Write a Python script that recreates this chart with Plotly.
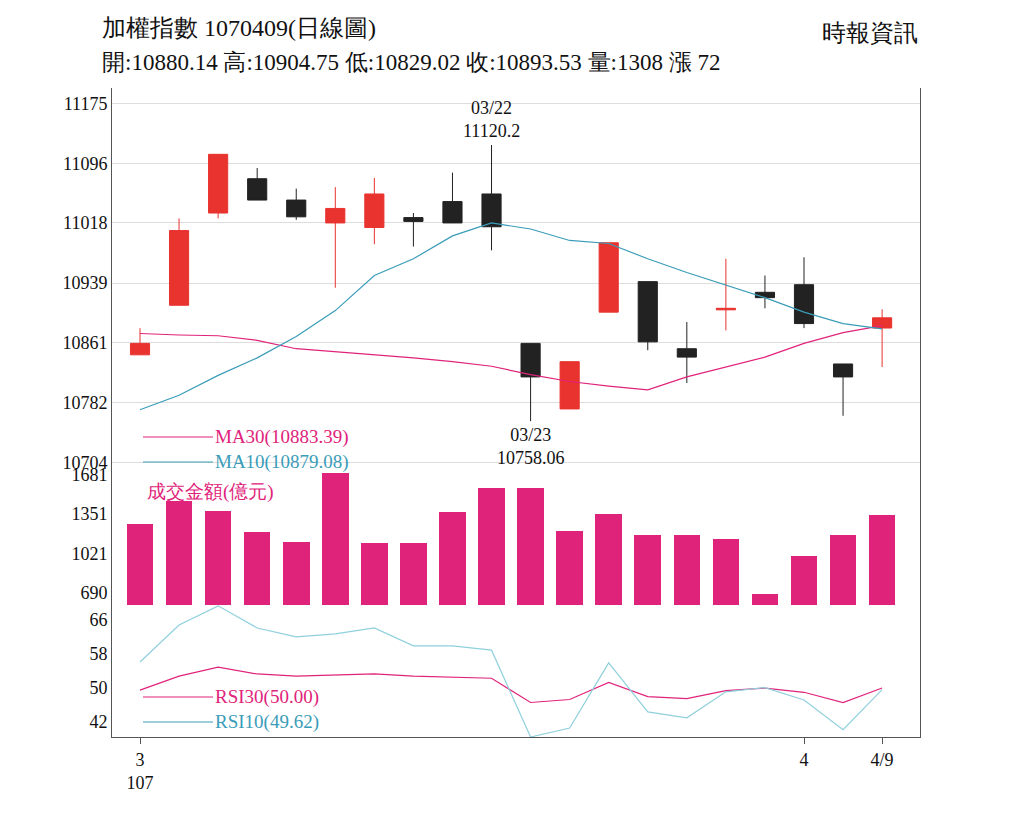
import plotly.graph_objects as go

idx = list(range(20))
opens  = [10845,10910,11031,11076,11048,11018,11012,11025,11046,11056,10860,10774,10901,10941,10853,10904,10927,10937,10833,10880.14]
closes = [10860,11008,11108,11048,11026,11037,11056,11020,11018,11013,10816,10836,10992,10862,10842,10906,10920,10886,10816,10893.53]
highs  = [10880,11024,11108,11090,11063,11065,11077,11031,11084,11120.2,10860,10836,10992,10941,10888,10971,10949,10973,10833,10904.75]
lows   = [10845,10910,11024,11048,11022,10933,10990,10987,11018,10982,10758.06,10774,10901,10851,10808,10877,10906,10880,10765,10829.02]
ma10 = [10773,10792,10818,10841,10869,10903,10949,10971,11001,11018,11010,10995,10991,10971,10953,10936,10920,10901,10886,10879.08]
ma30 = [10873,10871,10870,10864,10853,10849,10845,10841,10836,10830,10819,10810,10804,10799,10816,10829,10842,10860,10874,10883.39]
volume = [1268,1461,1378,1204,1121,1800,1112,1112,1369,1571,1571,1213,1351,1176,1176,1139,681,1001,1176,1341]
rsi10 = [56.1,64.8,69.3,64.1,62.0,62.7,64.1,59.9,59.9,58.9,38.5,40.6,55.9,44.4,43.0,49.1,50.1,47.2,40.2,49.62]
rsi30 = [49.5,52.8,54.9,53.3,52.8,53.0,53.3,52.8,52.6,52.3,46.6,47.3,51.3,48.0,47.5,49.4,50.0,49.0,46.6,50.0]
price_ticks = [10704,10782,10861,10939,11018,11096,11175]
vol_ticks = [690,1021,1351,1681]
rsi_ticks = [42,50,58,66]
x_tickvals = [0,17,19]
x_ticktext = ["3<br>107","4","4/9"]

RED = "#e8332f"; PINK = "#e0237a"; BLUE = "#3a9cb8"; FONT = "Liberation Serif"
L, R, T, B = 104, 112, 80, 91
W = 1024 - L - R; H = 820 - T - B

fig = go.Figure()
fig.add_trace(go.Candlestick(x=idx, open=opens, high=highs, low=lows, close=closes,
    increasing=dict(line=dict(color=RED, width=1), fillcolor=RED),
    decreasing=dict(line=dict(color="#222222", width=1), fillcolor="#222222"),
    whiskerwidth=0, xaxis="x", yaxis="y"))
fig.add_trace(go.Scatter(x=idx, y=ma30, mode="lines", line=dict(color=PINK, width=1.2), xaxis="x", yaxis="y"))
fig.add_trace(go.Scatter(x=idx, y=ma10, mode="lines", line=dict(color=BLUE, width=1.2), xaxis="x", yaxis="y"))
fig.add_trace(go.Bar(x=idx, y=volume, marker=dict(color=PINK, line=dict(width=0)), width=0.68, xaxis="x", yaxis="y2"))
fig.add_trace(go.Scatter(x=idx, y=rsi30, mode="lines", line=dict(color=PINK, width=1.2), xaxis="x", yaxis="y3"))
fig.add_trace(go.Scatter(x=idx, y=rsi10, mode="lines", line=dict(color="#8fd0dc", width=1.2), xaxis="x", yaxis="y3"))

xr = [-0.717, 19.97]
ax = dict(showline=True, linecolor="#555", mirror=True, ticks="", tickfont=dict(family=FONT, size=18, color="#111"),
          gridcolor="#dddddd", zeroline=False, tickformat="d")
fig.update_layout(
    width=1024, height=820, paper_bgcolor="white", plot_bgcolor="white", showlegend=False,
    margin=dict(l=L, r=R, t=T, b=B),
    font=dict(family=FONT, color="#111"),
    xaxis=dict(domain=[0, 1], range=xr, tickvals=x_tickvals, ticktext=x_ticktext, anchor="y3", showline=True, linecolor="#555",
               ticks="outside", ticklen=6, tickcolor="#555", showgrid=False, rangeslider=dict(visible=False),
               tickfont=dict(family=FONT, size=18, color="#111")),
    yaxis=dict(ax, domain=[0.4068, 1], range=[10690, 11195], tickvals=price_ticks),
    yaxis2=dict(ax, domain=[0.2034, 0.4068], range=[589, 1695], tickvals=vol_ticks, showgrid=False),
    yaxis3=dict(ax, domain=[0, 0.2034], range=[38.5, 69.5], tickvals=rsi_ticks, showgrid=False),
    bargap=0,
)

def fx(xp): return (xp - 112) / W
def fy(yp): return 1 - (yp - 88) / H

def txt(xp, yp, s, color="#111", size=18, xa="left"):
    fig.add_annotation(x=fx(xp), y=fy(yp), text=s, showarrow=False, xref="paper", yref="paper", xanchor=xa,
                       yanchor="middle", font=dict(family=FONT, size=size, color=color))

txt(100, 28, "加權指數 1070409(日線圖)", size=24)
txt(920, 33, "時報資訊", size=24, xa="right")
txt(100, 63, "開:10880.14 高:10904.75 低:10829.02 收:10893.53 量:1308 漲 72", size=23)
fig.add_annotation(x=9, y=11120.2, xref="x", yref="y", text="03/22<br>11120.2", showarrow=False, yanchor="bottom",
                   yshift=2, font=dict(family=FONT, size=18, color="#111"))
fig.add_annotation(x=10, y=10758.06, xref="x", yref="y", text="03/23<br>10758.06", showarrow=False, yanchor="top",
                   yshift=-2, font=dict(family=FONT, size=18, color="#111"))
for yp, s, c in [(437, "MA30(10883.39)", PINK), (462, "MA10(10879.08)", BLUE), (697, "RSI30(50.00)", PINK), (722, "RSI10(49.62)", BLUE)]:
    fig.add_shape(type="line", xref="paper", yref="paper", x0=fx(143), x1=fx(213), y0=fy(yp), y1=fy(yp),
                  line=dict(color=c, width=1))
    txt(213, yp, s, color=c, size=19)
txt(145, 492, "成交金額(億元)", color=PINK, size=19)

fig.write_html("out.html")
